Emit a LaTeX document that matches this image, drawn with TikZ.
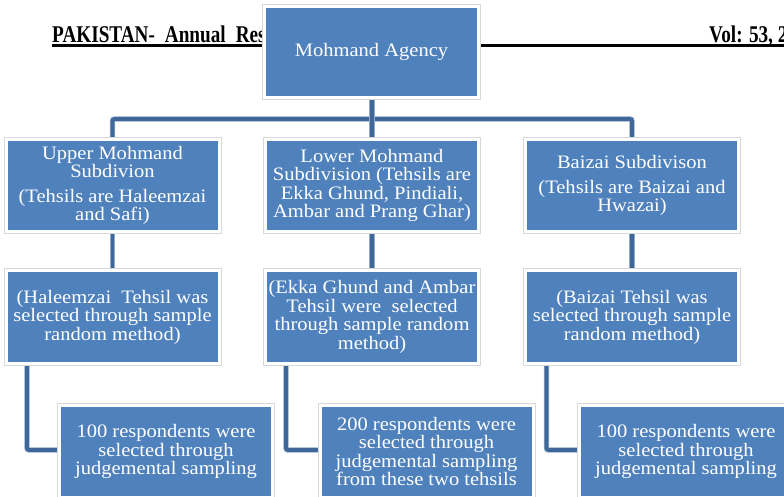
\documentclass[tikz,border=0pt]{standalone}
\usepackage{fontspec}
\setmainfont{Liberation Serif}
\newfontfamily\boxfont{Liberation Serif}[FakeStretch=1.08]
\newfontfamily\headfont{Liberation Serif}[FakeStretch=0.8]
\definecolor{boxblue}{HTML}{4F81BD}
\definecolor{conndark}{HTML}{3F6898}
\definecolor{connlight}{HTML}{8FAACB}
\definecolor{edgegray}{HTML}{D8D8D8}
\tikzset{
  x=1pt,y=-1pt,
  blbox/.style={rectangle, fill=boxblue, draw=white, line width=3pt,
    preaction={draw=edgegray, line width=5pt},
    text=white, align=center, inner sep=2pt,
    font=\boxfont\fontsize{19}{18.5}\selectfont,
    minimum width=213pt, minimum height=92pt},
  conn/.style={draw=conndark, line width=3.6pt,
    preaction={draw=connlight, line width=5.4pt}},
}
\begin{document}
\begin{tikzpicture}
\clip (0,0) rectangle (784,496);
\fill[white] (0,0) rectangle (784,496);
% header
\node[anchor=base west, inner sep=0, font=\headfont\bfseries\fontsize{24}{24}\selectfont] (hl) at (52,42) {PAKISTAN-\hspace{10pt}Annual\hspace{10pt}Res};
\node[anchor=base west, inner sep=0, font=\headfont\bfseries\fontsize{24}{24}\selectfont] (hr) at (709,42) {Vol: 53, 2};
\draw[line width=2.5pt] (52,45.5) -- (784,45.5);
% connectors
\coordinate (bus) at (372,119);
\coordinate (top) at (372,52);
\coordinate (pa) at (112.5,185.5);
\coordinate (pc) at (632,185.5);
\draw[conn, rounded corners=2pt] (pa) |- (bus) -| (pc);
\draw[conn] (top) -- (372,185.5);
\draw[conn] (112.5,185.5) -- (112.5,317);
\draw[conn] (372,185.5) -- (372,317);
\draw[conn] (632,185.5) -- (632,317);
\draw[conn, rounded corners=2pt] (27,317) |- (166,450);
\draw[conn, rounded corners=2pt] (286,317) |- (426,450);
\draw[conn, rounded corners=2pt] (546.5,317) |- (686,450);
% boxes
\node[blbox, minimum width=214pt, minimum height=91pt] (agency) at (371.5,52) {Mohmand Agency};
\node[blbox] (upper) at (112.5,185.5) {Upper Mohmand\\Subdivion\\[6pt](Tehsils are Haleemzai\\and Safi)};
\node[blbox] (lower) at (372,185.5) {Lower Mohmand\\Subdivision (Tehsils are\\Ekka Ghund, Pindiali,\\Ambar and Prang Ghar)};
\node[blbox] (baizai) at (632,185.5) {Baizai Subdivison\\[6pt](Tehsils are Baizai and\\Hwazai)};
\node[blbox, minimum height=93pt] (upsel) at (112.5,317) {(Haleemzai\ \ Tehsil was\\selected through sample\\random method)};
\node[blbox, minimum height=93pt] (lowsel) at (372,317) {(Ekka Ghund and Ambar\\Tehsil were\ \ selected\\through sample random\\method)};
\node[blbox, minimum height=93pt] (baisel) at (632,317) {(Baizai Tehsil was\\selected through sample\\random method)};
\node[blbox] (upres) at (166,451.5) {100 respondents were\\selected through\\judgemental sampling};
\node[blbox] (lowres) at (426.5,451.5) {200 respondents were\\selected through\\judgemental sampling\\from these two tehsils};
\node[blbox] (baires) at (686,451.5) {100 respondents were\\selected through\\judgemental sampling};
\end{tikzpicture}
\end{document}
